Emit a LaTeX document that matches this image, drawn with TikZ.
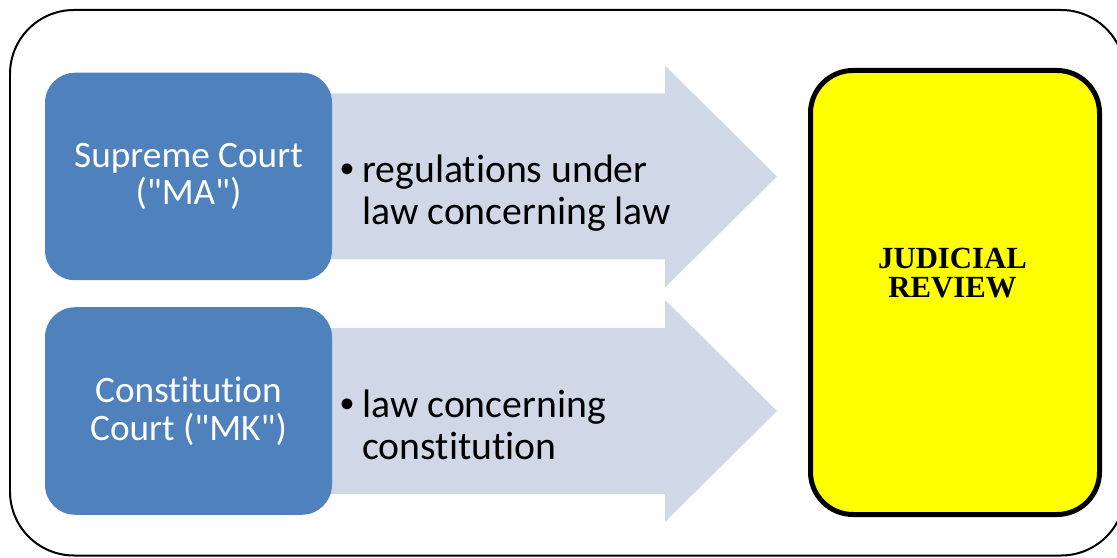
\documentclass[tikz,border=0pt]{standalone}
\usepackage{fontspec}
\setmainfont{Carlito}[Ligatures={TeXOff,CommonOff}]
\newfontfamily\reviewfont{Liberation Serif}
\newfontfamily\bulletfont{Liberation Sans}
\usetikzlibrary{calc}
\definecolor{courtblue}{HTML}{4F81BD}
\definecolor{arrowfill}{HTML}{D0D8E8}
\definecolor{reviewyellow}{RGB}{255,255,0}
\tikzset{
court/.style={fill=courtblue, rounded corners=.6cm, minimum width=5.74cm, minimum height=4.15cm, inner sep=0, text=white, align=center, font=\fontsize{21.2}{21.4}\selectfont},
reachtext/.style={anchor=base west, inner sep=0, align=left, font=\fontsize{22.6}{24}\selectfont},
reviewbox/.style={draw, line width=.1cm, fill=reviewyellow, rounded corners=.85cm, minimum width=5.78cm, minimum height=8.88cm},
}

\begin{document}
\begin{tikzpicture}
\useasboundingbox (0,0) rectangle (22.34,11.14);
\draw[line width=.04cm, rounded corners=1.28cm] (.2,.03) rectangle (22.5,10.94);
\foreach \y/\name/\court/\reach in {7.61/ma/{Supreme Court\\("MA")}/{regulations under\\\hspace*{.44cm}law concerning law}, 2.92/mk/{Constitution\\Court ("MK")}/{law concerning\\\hspace*{.44cm}constitution}} {
\fill[arrowfill] (6,\y+1.66) -- (13.3,\y+1.66) -- (13.3,\y+2.22) -- (15.54,\y) -- (13.3,\y-2.22) -- (13.3,\y-1.66) -- (6,\y-1.66) -- cycle;
\node[court] (\name) at (3.77,\y) {\court};
 \node[reachtext] (\name txt) at (6.8,\y-.97) {\makebox[.44cm][l]{\bulletfont\textbullet}\reach};
}
\node[reviewbox] (review) at (19.1,5.29) {};
\node[font=\reviewfont\bfseries\fontsize{17.5}{17}\selectfont, align=center, inner sep=0] (reviewtxt) at (19.05,5.68) {JUDICIAL\\REVIEW};
\end{tikzpicture}
\end{document}
